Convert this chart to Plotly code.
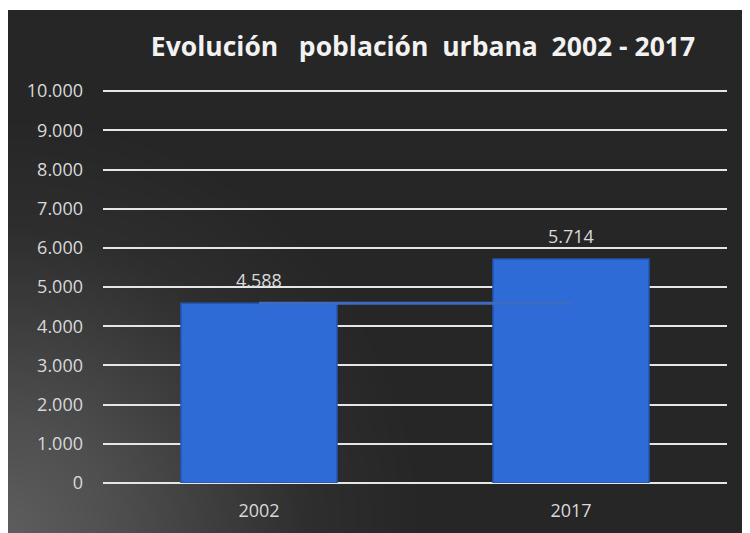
import base64
import struct
import zlib

import numpy as np
import plotly.graph_objects as go

# ---- data ----
categories = ["2002", "2017"]
poblacion_urbana = [4588, 5714]
linea_valores = [4588, 4588]
y_tick_values = [0, 1000, 2000, 3000, 4000, 5000, 6000, 7000, 8000, 9000, 10000]
y_max = 10030
title_text = "Evolución   población  urbana  2002 - 2017"

# the page body adds an 8px offset, so the figure is laid out 8px smaller
OFF = 8
W, H = 750 - OFF, 533 - OFF
L, R, T, B = 103 - OFF, 23, 90 - OFF, 50   # plot area in figure pixels
PW, PH = W - L - R, H - T - B
BG_X0, BG_Y0 = 0, 10 - OFF                   # dark panel top-left (figure px)


def fmt(v):
    return f"{v:,}".replace(",", ".")


def png_data_uri(arr):
    h, w, _ = arr.shape
    raw = b"".join(b"\x00" + arr[i].tobytes() for i in range(h))

    def chunk(t, d):
        c = struct.pack(">I", len(d)) + t + d
        return c + struct.pack(">I", zlib.crc32(t + d) & 0xFFFFFFFF)

    png = (b"\x89PNG\r\n\x1a\n"
           + chunk(b"IHDR", struct.pack(">IIBBBBB", w, h, 8, 2, 0, 0, 0))
           + chunk(b"IDAT", zlib.compress(raw, 9))
           + chunk(b"IEND", b""))
    return "data:image/png;base64," + base64.b64encode(png).decode()


# background glow from the bottom-left corner
bw, bh = W - BG_X0, H - BG_Y0
yy, xx = np.mgrid[0:bh, 0:bw]
dist = np.sqrt((xx.astype(float) + 2) ** 2 + (bh - yy).astype(float) ** 2)
stops_d = [0, 110, 215, 305, 410, 5000]
stops_v = [0x5E, 0x4F, 0x3D, 0x2E, 0x27, 0x26]
val = np.interp(dist, stops_d, stops_v).astype(np.uint8)
bg = np.dstack([val, val, val])
bg_uri = png_data_uri(bg)

fig = go.Figure()

fig.add_trace(go.Bar(
    x=categories, y=poblacion_urbana,
    width=0.5,
    marker=dict(color="#2f6bd6", line=dict(color="#2357b4", width=1.5)),
    hoverinfo="x+y", showlegend=False,
))

fig.add_trace(go.Scatter(
    x=categories, y=linea_valores, mode="lines",
    line=dict(color="#3d6cc2", width=3),
    hoverinfo="skip", showlegend=False,
))

label_font = dict(family="Open Sans", size=18, color="#d9d9d9")

annotations = []
for i, v in enumerate(poblacion_urbana):
    annotations.append(dict(
        x=i, y=v, xref="x", yref="y", text=fmt(v),
        showarrow=False, yanchor="bottom", yshift=9, font=label_font,
    ))

fig.update_layout(
    width=W, height=H,
    margin=dict(l=L, r=R, t=T, b=B, autoexpand=False),
    paper_bgcolor="white",
    plot_bgcolor="rgba(0,0,0,0)",
    separators=",.",
    showlegend=False,
    title=dict(
        text=title_text, x=(423 - OFF) / W, xanchor="center",
        y=1 - (47 - OFF) / H, yanchor="middle",
        font=dict(family="Open Sans", size=26.5, color="#f2f2f2", weight="bold"),
    ),
    images=[dict(
        source=bg_uri, xref="paper", yref="paper",
        x=(BG_X0 - L) / PW, y=1 + (T - BG_Y0) / PH,
        sizex=bw / PW, sizey=bh / PH,
        xanchor="left", yanchor="top", sizing="stretch", layer="below",
    )],
    xaxis=dict(
        type="category", automargin=False, range=[-0.5, 1.5],
        showgrid=False, showline=False, zeroline=False,
        tickfont=label_font, ticklabelstandoff=15,
    ),
    yaxis=dict(
        range=[0, y_max], automargin=False,
        tickvals=y_tick_values, tickformat=",d",
        showgrid=True, gridcolor="#e6e6e6", gridwidth=1.6,
        zeroline=True, zerolinecolor="#e6e6e6", zerolinewidth=1.6,
        showline=False, tickfont=label_font, ticklabelstandoff=19,
    ),
    annotations=annotations,
    bargap=0.5,
)

fig.write_html("out.html")
